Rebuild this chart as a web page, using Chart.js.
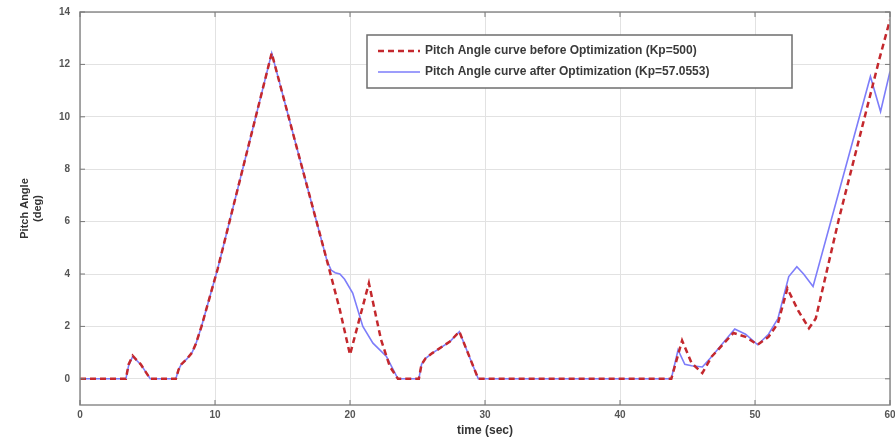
<!DOCTYPE html>
<html>
<head>
<meta charset="utf-8">
<script src="https://cdn.jsdelivr.net/npm/chart.js@4.4.1/dist/chart.umd.min.js"></script>
<style>
  html, body { margin: 0; padding: 0; background: #fff; }
  #wrap { width: 895px; height: 438px; }
</style>
</head>
<body>
<div id="wrap"><canvas id="pitchChart"></canvas></div>
<script>
// DU LIEU DOC TU HINH (thoi gian s, goc pitch deg)
const timeBefore = [0, 3.4, 3.6, 3.9, 4.5, 5.2, 7.1, 7.3, 7.5, 7.9, 8.3, 8.6, 9.0, 9.6, 10.2, 14.2, 16.1, 18.3, 19.25, 20.0, 21.4, 22.3, 22.95, 23.55, 25.1, 25.3, 25.6, 26.1, 27.4, 28.1, 29.5, 43.8, 44.6, 45.3, 46.1, 46.8, 47.6, 48.4, 49.3, 50.2, 51.0, 51.7, 52.4, 53.2, 54.0, 54.5, 56.2, 59.2, 60];
const pitchBefore = [0, 0, 0.55, 0.88, 0.55, 0, 0, 0.35, 0.55, 0.75, 1.0, 1.36, 2.0, 3.1, 4.2, 12.43, 8.74, 4.5, 2.63, 0.92, 3.65, 1.49, 0.47, 0, 0, 0.55, 0.78, 0.98, 1.42, 1.8, 0, 0, 1.46, 0.6, 0.22, 0.85, 1.3, 1.75, 1.6, 1.3, 1.6, 2.12, 3.45, 2.6, 1.93, 2.3, 6.07, 12.18, 13.7];

const timeAfter = [0, 3.4, 3.6, 3.9, 4.5, 5.2, 7.1, 7.3, 7.5, 7.9, 8.3, 8.6, 9.0, 9.6, 10.2, 14.2, 16.1, 18.3, 18.6, 18.9, 19.25, 19.6, 20.2, 20.95, 21.7, 22.7, 23.55, 25.1, 25.3, 25.6, 26.1, 27.4, 28.1, 29.5, 43.8, 44.3, 44.8, 45.3, 46.1, 46.8, 47.6, 48.5, 49.3, 50.2, 51.0, 51.7, 52.5, 53.1, 53.6, 54.3, 58.55, 59.3, 60];
const pitchAfter = [0, 0, 0.5, 0.85, 0.55, 0, 0, 0.35, 0.55, 0.75, 1.0, 1.36, 2.0, 3.1, 4.2, 12.43, 8.74, 4.5, 4.15, 4.05, 4.0, 3.8, 3.27, 2.0, 1.36, 0.85, 0, 0, 0.55, 0.78, 0.98, 1.42, 1.8, 0, 0, 1.1, 0.55, 0.5, 0.45, 0.85, 1.35, 1.9, 1.7, 1.3, 1.7, 2.3, 3.9, 4.28, 4.0, 3.52, 11.54, 10.2, 11.73];

const xTicks = [0, 10, 20, 30, 40, 50, 60];
const yTicks = [0, 2, 4, 6, 8, 10, 12, 14];

const labelBefore = "Pitch Angle curve before Optimization (Kp=500)";
const labelAfter = "Pitch Angle curve after Optimization (Kp=57.0553)";

const toPoints = (xs, ys) => xs.map((x, i) => ({ x: x, y: ys[i] }));

// khung MATLAB + chu thich ben trong vung ve
const frameAndLegend = {
  id: "frameAndLegend",
  afterDraw(chart) {
    const { ctx, chartArea: a, scales } = chart;
    ctx.save();
    ctx.strokeStyle = "#8c8c8c";
    ctx.lineWidth = 1.5;
    ctx.strokeRect(a.left, a.top, a.right - a.left, a.bottom - a.top);

    // vach chia nho huong vao trong
    ctx.lineWidth = 1;
    ctx.strokeStyle = "#777";
    xTicks.forEach((v) => {
      const px = scales.x.getPixelForValue(v);
      ctx.beginPath();
      ctx.moveTo(px, a.bottom); ctx.lineTo(px, a.bottom - 5);
      ctx.moveTo(px, a.top); ctx.lineTo(px, a.top + 5);
      ctx.stroke();
    });
    yTicks.forEach((v) => {
      const py = scales.y.getPixelForValue(v);
      ctx.beginPath();
      ctx.moveTo(a.left, py); ctx.lineTo(a.left + 5, py);
      ctx.moveTo(a.right, py); ctx.lineTo(a.right - 5, py);
      ctx.stroke();
    });

    // chu thich
    const lx = 367, ly = 35, lw = 425, lh = 53;
    ctx.fillStyle = "#fff";
    ctx.fillRect(lx, ly, lw, lh);
    ctx.strokeStyle = "#6e6e6e";
    ctx.lineWidth = 1.5;
    ctx.strokeRect(lx, ly, lw, lh);
    chart.data.datasets.forEach((ds, i) => {
      const y = ly + 16 + i * 21;
      ctx.strokeStyle = ds.borderColor;
      ctx.lineWidth = ds.borderWidth;
      ctx.setLineDash(ds.borderDash || []);
      ctx.beginPath();
      ctx.moveTo(lx + 11, y);
      ctx.lineTo(lx + 53, y);
      ctx.stroke();
      ctx.setLineDash([]);
      ctx.fillStyle = "#3a3a3a";
      ctx.font = "bold 12px 'Liberation Sans', Arial, sans-serif";
      ctx.textBaseline = "middle";
      ctx.fillText(ds.label, lx + 58, y);
    });
    ctx.restore();
  },
};

const pitchChart = document.querySelector("#pitchChart");
if (pitchChart) {
  new Chart(pitchChart, {
    type: "line",
    data: {
      datasets: [
        {
          label: labelBefore,
          data: toPoints(timeBefore, pitchBefore),
          borderColor: "rgb(196, 40, 45)",
          borderWidth: 2.5,
          borderDash: [6, 4],
          pointRadius: 0,
          tension: 0,
          fill: false,
        },
        {
          label: labelAfter,
          data: toPoints(timeAfter, pitchAfter),
          borderColor: "rgb(125, 125, 250)",
          borderWidth: 1.6,
          pointRadius: 0,
          tension: 0,
          fill: false,
        },
      ],
    },
    options: {
      responsive: true,
      maintainAspectRatio: false,
      animation: false,
      layout: { padding: { top: 12, right: 5, left: 0, bottom: 0 } },
      plugins: {
        legend: { display: false },
        tooltip: { enabled: false },
      },
      scales: {
        x: {
          type: "linear",
          min: 0,
          max: 60,
          afterBuildTicks: (axis) => {
            axis.ticks = xTicks.map((v) => ({ value: v }));
          },
          afterFit: (scale) => {
            scale.height = 33;
            scale.paddingLeft = 0;
            scale.paddingRight = 0;
          },
          grid: { color: "#e2e2e2", drawTicks: false },
          border: { display: false },
          ticks: {
            padding: 4,
            color: "#555",
            font: { size: 10, weight: "bold", family: "'Liberation Sans', Arial" },
            maxRotation: 0,
          },
          title: {
            display: true,
            text: "time (sec)",
            color: "#333",
            padding: { top: 0, bottom: 0 },
            font: { size: 12, weight: "bold", family: "'Liberation Sans', Arial" },
          },
        },
        y: {
          min: -1,
          max: 14,
          afterBuildTicks: (axis) => {
            axis.ticks = yTicks.map((v) => ({ value: v }));
          },
          afterFit: (scale) => {
            scale.width = 80;
            scale.paddingTop = 0;
            scale.paddingBottom = 0;
          },
          grid: { color: "#e2e2e2", drawTicks: false },
          border: { display: false },
          ticks: {
            padding: 10,
            color: "#555",
            font: { size: 10, weight: "bold", family: "'Liberation Sans', Arial" },
          },
          title: {
            display: true,
            text: ["Pitch Angle", "(deg)"],
            color: "#333",
            padding: { top: 18, bottom: 0 },
            font: { size: 11, weight: "bold", family: "'Liberation Sans', Arial" },
          },
        },
      },
    },
    plugins: [frameAndLegend],
  });
}
</script>
</body>
</html>
